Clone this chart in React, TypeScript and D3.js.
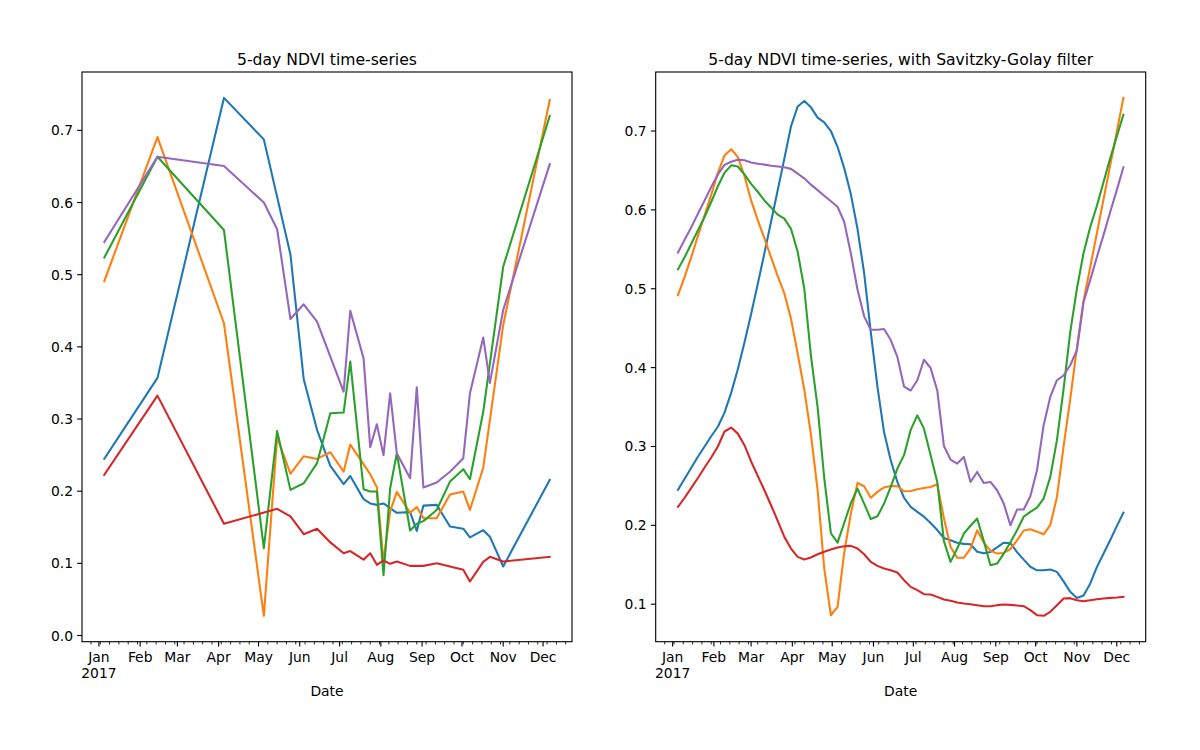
import React from "react";
import * as d3 from "d3";

// ---- observation grid: 5-day periods starting 2017-01-05 ----
const START = Date.UTC(2017, 0, 5);
const N_PERIODS = 68;
const DAY = 86400000;
const periodDate = (i: number) => new Date(START + i * 5 * DAY);

// ---- raw (cloud-free) observations: period indices ----
const obsIdx = [0, 8, 18, 24, 26, 28, 30, 32, 34, 36, 37, 39, 40, 41, 42, 43, 44, 46, 47, 48, 50, 52, 54, 55, 57, 58, 60, 67];

const rawBlue = [0.245, 0.357, 0.745, 0.6875, null, 0.528, 0.355, 0.285, 0.235, 0.2097, 0.221, 0.189, 0.183, 0.181, 0.183, null, 0.17, 0.171, 0.145, 0.18, 0.181, 0.151, 0.148, 0.136, 0.146, 0.137, 0.0956, 0.2157];
const rawOrange = [0.491, 0.6907, 0.4327, 0.0273, 0.2748, 0.224, 0.2485, 0.2447, 0.254, 0.227, 0.2646, 0.2374, 0.2235, 0.2055, 0.1025, 0.172, 0.199, 0.17, 0.178, 0.1626, 0.1626, 0.1955, 0.1995, 0.174, 0.2325, null, 0.43, 0.742];
const rawGreen = [0.5236, 0.6635, 0.562, 0.121, 0.2835, 0.2018, 0.211, 0.2388, 0.308, 0.309, 0.3795, 0.2028, 0.1995, 0.1995, 0.0835, 0.204, 0.2526, 0.1455, 0.155, 0.1585, 0.174, 0.2133, 0.2305, 0.2166, 0.31, null, 0.511, 0.72];
const rawRed = [0.2226, 0.3324, 0.155, null, 0.1755, 0.165, 0.1404, 0.148, 0.129, 0.114, 0.117, 0.105, 0.114, 0.098, 0.104, 0.0993, 0.1025, 0.0965, null, 0.0965, 0.1, null, 0.091, 0.0748, 0.102, 0.109, 0.1025, 0.109];
const rawPurple = [0.5453, 0.6634, 0.6506, 0.6, 0.563, 0.4386, 0.459, 0.435, null, 0.338, 0.45, 0.384, 0.261, 0.2928, 0.25, 0.3357, 0.2526, 0.218, 0.344, 0.205, 0.212, 0.227, 0.2457, 0.3357, 0.413, 0.35, 0.451, 0.6533];

// ---- Savitzky-Golay smoothed, every 5-day period ----
const sgBlue = [0.245, 0.259, 0.273, 0.287, 0.3, 0.313, 0.325, 0.343, 0.368, 0.398, 0.432, 0.468, 0.506, 0.545, 0.585, 0.625, 0.665, 0.706, 0.731, 0.738, 0.73, 0.717, 0.711, 0.7, 0.68, 0.653, 0.62, 0.576, 0.52, 0.445, 0.376, 0.318, 0.2825, 0.255, 0.235, 0.2234, 0.217, 0.211, 0.203, 0.194, 0.184, 0.181, 0.178, 0.1765, 0.176, 0.1665, 0.1645, 0.1663, 0.172, 0.178, 0.1775, 0.166, 0.1565, 0.1475, 0.143, 0.143, 0.144, 0.141, 0.129, 0.1157, 0.108, 0.111, 0.126, 0.147, 0.164, 0.181, 0.199, 0.216];
const sgOrange = [0.492, 0.515, 0.54, 0.567, 0.593, 0.619, 0.647, 0.669, 0.677, 0.667, 0.643, 0.612, 0.587, 0.564, 0.54, 0.516, 0.494, 0.462, 0.418, 0.372, 0.315, 0.245, 0.145, 0.086, 0.0966, 0.165, 0.215, 0.2537, 0.2496, 0.235, 0.2424, 0.248, 0.25, 0.2496, 0.2432, 0.2436, 0.2458, 0.2474, 0.2487, 0.2521, 0.209, 0.1727, 0.159, 0.159, 0.1706, 0.1938, 0.178, 0.168, 0.1642, 0.165, 0.17, 0.181, 0.1935, 0.195, 0.192, 0.1886, 0.2005, 0.236, 0.3, 0.36, 0.425, 0.485, 0.527, 0.57, 0.613, 0.656, 0.699, 0.742];
const sgGreen = [0.5245, 0.54, 0.557, 0.574, 0.591, 0.61, 0.63, 0.647, 0.6565, 0.655, 0.645, 0.633, 0.623, 0.612, 0.603, 0.594, 0.589, 0.576, 0.547, 0.5, 0.415, 0.35, 0.26, 0.19, 0.178, 0.203, 0.228, 0.2466, 0.2276, 0.208, 0.2115, 0.2276, 0.2487, 0.272, 0.289, 0.321, 0.3395, 0.3226, 0.289, 0.255, 0.18, 0.1537, 0.1706, 0.1896, 0.1995, 0.2086, 0.18, 0.1495, 0.1515, 0.1642, 0.1785, 0.1938, 0.211, 0.217, 0.2225, 0.234, 0.2614, 0.308, 0.373, 0.445, 0.5, 0.545, 0.578, 0.605, 0.635, 0.665, 0.693, 0.7207];
const sgRed = [0.2234, 0.235, 0.2475, 0.26, 0.2733, 0.286, 0.3, 0.319, 0.324, 0.3163, 0.3016, 0.281, 0.2627, 0.2445, 0.2255, 0.2057, 0.1854, 0.1706, 0.16, 0.1567, 0.1592, 0.1634, 0.1664, 0.1693, 0.1719, 0.1736, 0.174, 0.1706, 0.1634, 0.1537, 0.1486, 0.1452, 0.1431, 0.1402, 0.1305, 0.122, 0.1178, 0.1127, 0.1123, 0.1093, 0.106, 0.1043, 0.1021, 0.1009, 0.1, 0.0988, 0.0975, 0.0975, 0.0988, 0.0996, 0.0992, 0.0984, 0.0975, 0.0925, 0.0861, 0.0853, 0.0904, 0.0988, 0.1073, 0.1077, 0.1051, 0.1038, 0.1051, 0.1064, 0.1073, 0.108, 0.1085, 0.1093];
const sgPurple = [0.546, 0.562, 0.578, 0.595, 0.612, 0.629, 0.645, 0.657, 0.661, 0.6637, 0.663, 0.66, 0.6586, 0.6574, 0.656, 0.655, 0.654, 0.652, 0.646, 0.64, 0.632, 0.625, 0.618, 0.611, 0.604, 0.585, 0.545, 0.499, 0.465, 0.448, 0.448, 0.449, 0.435, 0.4135, 0.376, 0.371, 0.384, 0.41, 0.3995, 0.371, 0.3007, 0.2834, 0.2783, 0.2867, 0.255, 0.2677, 0.2538, 0.255, 0.2445, 0.2276, 0.2001, 0.22, 0.22, 0.237, 0.27, 0.327, 0.363, 0.384, 0.39, 0.403, 0.422, 0.483, 0.511, 0.54, 0.568, 0.597, 0.625, 0.654];

const colors = ["#1f77b4", "#ff7f0e", "#2ca02c", "#d62728", "#9467bd"];
const leftYTicks = [0, 0.1, 0.2, 0.3, 0.4, 0.5, 0.6, 0.7];
const rightYTicks = [0.1, 0.2, 0.3, 0.4, 0.5, 0.6, 0.7];
const titles = ["5-day NDVI time-series", "5-day NDVI time-series, with Savitzky-Golay filter"];
const xLabel = "Date";

type Pt = { d: Date; v: number };

const FONT = "DejaVu Sans, sans-serif";
const TOP = 72;
const BOTTOM = 641.7;
const PT = 100 / 72;

function Panel({ x0, x1, title, series, yTicks }: { x0: number; x1: number; title: string; series: Pt[][]; yTicks: number[] }) {
  const first = periodDate(0).getTime();
  const last = periodDate(N_PERIODS - 1).getTime();
  const span = last - first;
  const x = d3.scaleUtc().domain([new Date(first - 0.05 * span), new Date(last + 0.05 * span)]).range([x0, x1]);
  const all = series.flat().map((p) => p.v);
  const mn = d3.min(all)!, mx = d3.max(all)!;
  const pad = (mx - mn) * 0.05;
  const y = d3.scaleLinear().domain([mn - pad, mx + pad]).range([BOTTOM, TOP]);
  const line = d3.line<Pt>().x((p) => x(p.d)).y((p) => y(p.v));
  const [dA, dB] = x.domain();
  const months = d3.utcMonth.range(d3.utcMonth.ceil(dA), dB);
  const minors = d3.utcMonday.range(dA, dB).filter((d) => d.getUTCDate() !== 1);
  const fmt = d3.utcFormat("%b");
  const majLen = 3.5 * PT, minLen = 2 * PT;
  const cx = (x0 + x1) / 2;
  return (
    <g>
      {series.map((s, k) => (
        <path key={k} d={line(s) || ""} fill="none" stroke={colors[k]} strokeWidth={1.5 * PT} strokeLinejoin="round" strokeLinecap="square" />
      ))}
      <rect x={x0} y={TOP} width={x1 - x0} height={BOTTOM - TOP} fill="none" stroke="#000" strokeWidth={0.8 * PT} />
      {yTicks.map((t) => (
        <g key={t}>
          <line x1={x0} x2={x0 - majLen} y1={y(t)} y2={y(t)} stroke="#000" strokeWidth={0.8 * PT} />
          <text x={x0 - 9} y={y(t)} dy="0.36em" textAnchor="end" fontSize={10 * PT} fontFamily={FONT}>
            {d3.format(".1f")(t)}
          </text>
        </g>
      ))}
      {minors.map((d, i) => (
        <line key={"m" + i} x1={x(d)} x2={x(d)} y1={BOTTOM} y2={BOTTOM + minLen} stroke="#000" strokeWidth={0.6 * PT} />
      ))}
      {months.map((d, i) => (
        <g key={"M" + i}>
          <line x1={x(d)} x2={x(d)} y1={BOTTOM} y2={BOTTOM + majLen} stroke="#000" strokeWidth={0.8 * PT} />
          <text x={x(d)} y={662} textAnchor="middle" fontSize={10 * PT} fontFamily={FONT}>
            {fmt(d)}
          </text>
          {d.getUTCMonth() === 0 && (
            <text x={x(d)} y={678} textAnchor="middle" fontSize={10 * PT} fontFamily={FONT}>
              {d.getUTCFullYear()}
            </text>
          )}
        </g>
      ))}
      <text x={cx} y={696} textAnchor="middle" fontSize={10 * PT} fontFamily={FONT}>
        {xLabel}
      </text>
      <text x={cx} y={64.5} textAnchor="middle" fontSize={15.6} fontFamily={FONT}>
        {title}
      </text>
    </g>
  );
}

export default function App() {
  const raws = [rawBlue, rawOrange, rawGreen, rawRed, rawPurple];
  const sgs = [sgBlue, sgOrange, sgGreen, sgRed, sgPurple];
  const rawSeries: Pt[][] = raws.map((vals) =>
    obsIdx
      .map((idx, k) => ({ d: periodDate(idx), v: vals[k] as number | null }))
      .filter((p) => p.v !== null) as Pt[]
  );
  const sgSeries: Pt[][] = sgs.map((vals) => vals.map((v, i) => ({ d: periodDate(i), v })));
  return (
    <svg width={1200} height={750} style={{ position: "absolute", left: 0, top: 0, background: "#fff" }}>
      <rect x={0} y={0} width={1200} height={750} fill="#fff" />
      <Panel x0={82} x1={572} title={titles[0]} series={rawSeries} yTicks={leftYTicks} />
      <Panel x0={655.7} x1={1145.7} title={titles[1]} series={sgSeries} yTicks={rightYTicks} />
    </svg>
  );
}
